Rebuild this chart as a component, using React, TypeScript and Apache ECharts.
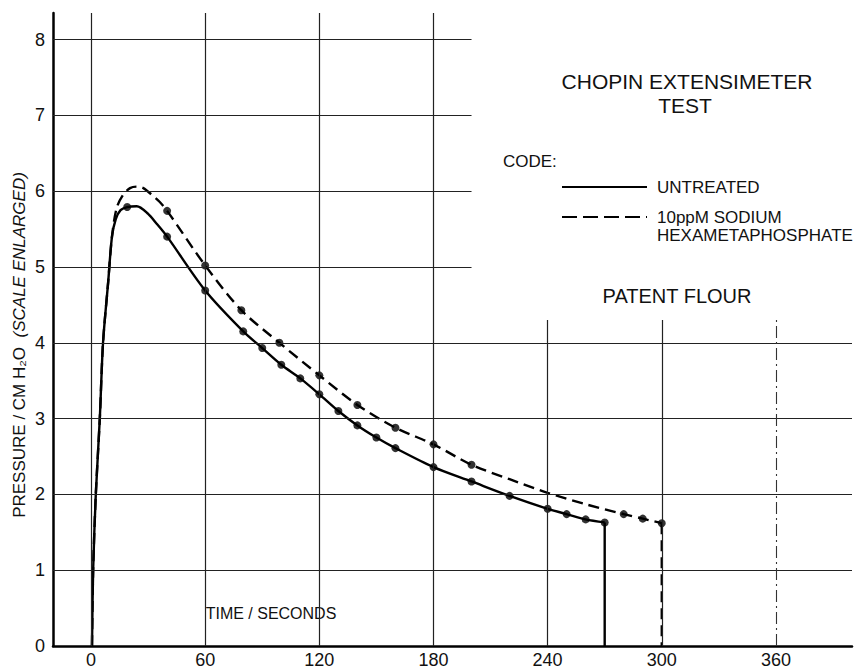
import React, { useEffect, useRef } from "react";
import * as echarts from "echarts";

// ---- data ----
// Untreated: points with dot markers
const untreatedDotTime = [19, 40, 60, 80, 90, 100, 110, 120, 130, 140, 150, 160, 180, 200, 220, 240, 250, 260, 270];
const untreatedDotPressure = [5.79, 5.4, 4.69, 4.15, 3.93, 3.71, 3.53, 3.32, 3.1, 2.91, 2.75, 2.61, 2.36, 2.17, 1.98, 1.81, 1.74, 1.67, 1.63];
// Untreated: curve points without markers (rise & peak shape)
const untreatedShapeTime = [0.5, 1.1, 2.5, 4.6, 6.3, 9.0, 11.0, 13.0, 15.5, 24, 30, 34.5];
const untreatedShapePressure = [0, 1, 2, 3, 4, 4.8, 5.4, 5.63, 5.75, 5.8, 5.7, 5.57];

// 10 ppm sodium hexametaphosphate: dot points
const treatedDotTime = [40, 60, 79, 99, 120, 140, 160, 180, 200, 280, 290, 300];
const treatedDotPressure = [5.74, 5.02, 4.43, 4.0, 3.57, 3.18, 2.88, 2.66, 2.39, 1.74, 1.68, 1.62];
// treated: curve shape points without markers
const treatedShapeTime = [0.5, 1.1, 2.5, 4.6, 6.3, 9.0, 11.0, 13.5, 16.8, 20.5, 24, 27.5, 32, 36, 220, 240, 260];
const treatedShapePressure = [0, 1, 2, 3, 4, 4.8, 5.4, 5.78, 5.95, 6.04, 6.06, 6.04, 5.95, 5.86, 2.2, 2.02, 1.87];

// axis ticks
const xTickLabels = [0, 60, 120, 180, 240, 300, 360];
const yTickLabels = [0, 1, 2, 3, 4, 5, 6, 7, 8];

// grid lines (axis values)
const hGridFull = [1, 2, 3, 4];
const hGridTopLeft = [5, 6, 7, 8];
const vGridFull = [0, 60, 120, 180];
const vGridLower = [240, 300];
const vGridDashDot = [360];

const X_MIN = -20;
const X_MAX = 400;
const Y_MAX = 8.35;
const Y_LOWER_TOP = 4.3;
const H_PART_END = 200;

const FONT = "'Liberation Sans', Arial, sans-serif";

function merge(t1: number[], p1: number[], t2: number[], p2: number[]) {
  const pts = [
    ...t1.map((t, i) => [t, p1[i]]),
    ...t2.map((t, i) => [t, p2[i]]),
  ];
  return pts.sort((a, b) => a[0] - b[0]);
}

function txt(x: number, y: number, text: string, fontSize: number, align: string, extra: any = {}) {
  return {
    type: "text",
    x,
    y,
    ...extra,
    style: {
      text,
      fontFamily: FONT,
      fontSize,
      fill: "#111",
      align,
      textAlign: align,
      verticalAlign: "middle",
      textVerticalAlign: "middle",
      ...(extra.style || {}),
    },
  };
}

export default function App() {
  const ref = useRef<HTMLDivElement>(null);
  useEffect(() => {
    if (!ref.current) return;
    const chart = echarts.init(ref.current, null, { renderer: "svg" });

    const gridLines: any[] = [];
    hGridFull.forEach((y) => gridLines.push([{ coord: [X_MIN, y] }, { coord: [X_MAX, y] }]));
    hGridTopLeft.forEach((y) => gridLines.push([{ coord: [X_MIN, y] }, { coord: [H_PART_END, y] }]));
    vGridFull.forEach((x) => gridLines.push([{ coord: [x, 0] }, { coord: [x, Y_MAX] }]));
    vGridLower.forEach((x) => gridLines.push([{ coord: [x, 0] }, { coord: [x, Y_LOWER_TOP] }]));
    vGridDashDot.forEach((x) =>
      gridLines.push([
        { coord: [x, 0], lineStyle: { type: [12, 4, 2, 4], width: 1.1, color: "#333" } },
        { coord: [x, Y_LOWER_TOP] },
      ])
    );

    const untreatedLast = untreatedDotTime.length - 1;
    const treatedLast = treatedDotTime.length - 1;

    const lineW = 2.4;
    const dash = [11, 6];

    chart.setOption({
      animation: false,
      backgroundColor: "#fff",
      grid: { left: 53, right: 11, top: 13, bottom: 21, containLabel: false },
      xAxis: {
        type: "value",
        min: X_MIN,
        max: X_MAX,
        interval: 20,
        axisLine: { show: true, onZero: false, lineStyle: { color: "#000", width: 2.5 } },
        axisTick: { show: false },
        splitLine: { show: false },
        axisLabel: {
          color: "#111",
          fontFamily: FONT,
          fontSize: 18,
          margin: 5,
          formatter: (v: number) => (xTickLabels.includes(v) ? String(v) : ""),
        },
      },
      yAxis: {
        type: "value",
        min: 0,
        max: Y_MAX,
        interval: 1,
        axisLine: { show: true, onZero: false, lineStyle: { color: "#000", width: 2.5 } },
        axisTick: { show: false },
        splitLine: { show: false },
        axisLabel: {
          color: "#111",
          fontFamily: FONT,
          fontSize: 18,
          margin: 8,
          formatter: (v: number) => (yTickLabels.includes(v) ? String(v) : ""),
        },
      },
      series: [
        {
          type: "line",
          name: "grid",
          data: [],
          silent: true,
          z: 1,
          markLine: {
            silent: true,
            symbol: "none",
            label: { show: false },
            emphasis: { disabled: true },
            lineStyle: { color: "#222", width: 1.2, type: "solid" },
            data: gridLines,
          },
        },
        {
          type: "line",
          name: "UNTREATED",
          data: merge(untreatedShapeTime, untreatedShapePressure, untreatedDotTime, untreatedDotPressure),
          smooth: 0.3,
          showSymbol: false,
          lineStyle: { color: "#000", width: lineW },
          z: 3,
        },
        {
          type: "line",
          name: "UNTREATED drop",
          data: [
            [untreatedDotTime[untreatedLast], untreatedDotPressure[untreatedLast]],
            [untreatedDotTime[untreatedLast], 0],
          ],
          showSymbol: false,
          lineStyle: { color: "#000", width: lineW },
          z: 3,
        },
        {
          type: "scatter",
          name: "UNTREATED dots",
          data: untreatedDotTime.map((t, i) => [t, untreatedDotPressure[i]]),
          symbolSize: 8,
          itemStyle: { color: "#000" },
          z: 4,
        },
        {
          type: "line",
          name: "10ppM SODIUM HEXAMETAPHOSPHATE",
          data: merge(treatedShapeTime, treatedShapePressure, treatedDotTime, treatedDotPressure),
          smooth: 0.3,
          showSymbol: false,
          lineStyle: { color: "#000", width: lineW, type: dash },
          z: 3,
        },
        {
          type: "line",
          name: "treated drop",
          data: [
            [treatedDotTime[treatedLast], treatedDotPressure[treatedLast]],
            [treatedDotTime[treatedLast], 0],
          ],
          showSymbol: false,
          lineStyle: { color: "#000", width: lineW, type: dash },
          z: 3,
        },
        {
          type: "scatter",
          name: "treated dots",
          data: treatedDotTime.map((t, i) => [t, treatedDotPressure[i]]),
          symbolSize: 8,
          itemStyle: { color: "#000" },
          z: 4,
        },
      ],
      graphic: [
        txt(687, 81, "CHOPIN EXTENSIMETER", 21, "center"),
        txt(685, 105, "TEST", 21, "center"),
        txt(503, 161, "CODE:", 17, "left"),
        {
          type: "line",
          shape: { x1: 562, y1: 187, x2: 647, y2: 187 },
          style: { stroke: "#000", lineWidth: 2.2 },
        },
        txt(657, 187, "UNTREATED", 17, "left"),
        {
          type: "line",
          shape: { x1: 562, y1: 217, x2: 647, y2: 217 },
          style: { stroke: "#000", lineWidth: 2.2, lineDash: [15, 6] },
        },
        txt(657, 217, "10ppM SODIUM", 17, "left"),
        txt(657, 235, "HEXAMETAPHOSPHATE", 17, "left"),
        txt(677, 296, "PATENT FLOUR", 20, "center"),
        txt(271, 613, "TIME / SECONDS", 16, "center"),
        {
          type: "text",
          x: 19,
          y: 345,
          rotation: Math.PI / 2,
          style: {
            text: "{n|PRESSURE / CM H₂O}  {i|(SCALE ENLARGED)}",
            fontFamily: FONT,
            fontSize: 17,
            fill: "#111",
            align: "center",
            textAlign: "center",
            verticalAlign: "middle",
            textVerticalAlign: "middle",
            rich: {
              n: { fontFamily: FONT, fontSize: 17, fill: "#111", color: "#111" },
              i: { fontFamily: FONT, fontSize: 17, fontStyle: "italic", fill: "#111", color: "#111" },
            },
          },
        },
      ],
    });
    return () => chart.dispose();
  }, []);
  return (
    <div
      ref={ref}
      style={{ position: "fixed", left: 0, top: 0, width: 863, height: 669, background: "#fff" }}
    />
  );
}
